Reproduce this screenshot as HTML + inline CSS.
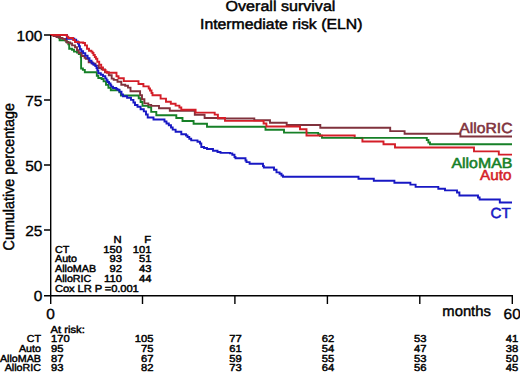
<!DOCTYPE html>
<html><head><meta charset="utf-8"><style>
html,body{margin:0;padding:0;background:#fff;}
body{width:520px;height:372px;overflow:hidden;position:relative;}
svg{position:absolute;left:0;top:0;}
text{font-family:"Liberation Sans",sans-serif;text-rendering:geometricPrecision;}
.t{font-size:14.5px;stroke:#000;stroke-width:0.45px;}
.a{font-size:14.5px;stroke:#000;stroke-width:0.4px;}
.k{font-size:14.6px;stroke:#000;stroke-width:0.35px;}
.s{font-size:10.2px;stroke:#000;stroke-width:0.45px;}
.l{font-size:14.6px;stroke-width:0.55px;}
</style></head><body>
<svg width="520" height="372" viewBox="0 0 520 372">
<g fill="none" stroke-width="1.9" stroke-linejoin="miter" stroke-linecap="butt">
<path d="M50,35H56.7V35.8H58.7V37.7H59.6V40.3H66.3V42.0H68.3V44.4H69.2V48.8H72.0V49.7H74.0V51.6H77.0V52.6H78.8V54.0H80.8V57.0H81.1V68.5H82.9V69.9H84.8V72.3H96.8V75.7H98.3V78.0H101.6V79.0H103.6V81.4H106.0V84.8H108.4V87.7H110.8V90.2H119.4V92.4H120.9V95.5H138.7V98.2H140.6V102.0H142.5V105.9H148.3V107.2H151.2V111.9H156.3V115.2H176.3V118.0H182.5V121.0H193.6V123.8H207.0V126.8H265.5V129.7H284.0V132.6H307.5V132.9H318.2V134.2H320.0V135.8H322.0V137.9H426.8V140.0H428.4V142.5H430.0V144.3H512" stroke="#168027"/>
<path d="M50,35H53.5V36.0H56.5V37.0H60.0V38.0H62.5V38.9H65.4V40.6H66.8V42.5H70.2V43.5H72.1V45.4H75.0V47.3H77.0V50.2H78.8V53.0H81.7V56.0H84.6V57.9H85.8V58.8H88.7V62.2H92.5V63.7H95.4V65.6H98.8V68.0H101.6V69.4H105.0V72.3H108.8V75.2H111.7V78.6H113.7V79.9H117.5V81.8H121.3V84.7H125.2V85.7H128.0V87.6H130.5V91.3H140.1V95.3H142.0V99.2H144.4V103.4H148.3V104.9H151.2V105.9H159.0V108.2H169.8V110.8H194.8V114.8H204.6V118.0H218.0V118.5H254.3V120.2H270.0V122.8H286.7V125.0H320.3V127.7H390.2V131.1H404.6V133.8H460.4V136.5H512" stroke="#80323d"/>
<path d="M50,35H66.9V38.8H74.3V39.8H76.2V41.4H77.9V43.5H79.0V46.3H79.9V49.2H81.3V51.2H83.1V53.2H85.3V55.7H87.6V58.3H89.5V60.8H91.5V63.2H93.5V64.8H95.4V66.0H96.5V68.0H97.3V70.4H98.3V73.3H100.8V74.8H103.0V76.3H105.3V78.4H106.5V80.2H107.6V82.0H109.0V83.5H110.5V85.3H111.3V86.6H113.0V88.0H116.3V89.0H117.5V89.8H119.4V91.6H121.5V94.5H123.0V96.3H127.1V97.8H131.0V99.9H133.4V102.5H135.0V105.0H137.5V106.8H140.6V109.2H143.8V111.4H146.0V114.5H147.7V117.5H153.5V119.5H164.5V121.5H166.5V123.5H168.8V125.2H171.0V127.5H172.7V129.6H175.6V131.8H181.3V134.3H186.0V135.5H187.5V137.0H189.3V138.8H191.2V140.4H197.5V141.8H200.0V143.5H201.3V147.0H204.0V148.0H207.0V149.0H213.0V150.8H217.5V152.0H220.5V152.9H230.0V153.4H232.3V154.8H234.5V157.0H235.5V158.3H245.5V160.5H246.5V162.1H249.6V163.7H263.0V166.0H263.8V167.5H274.0V169.8H276.5V172.4H279.6V173.8H281.5V175.5H283.0V176.8H358.5V178.8H373.8V180.8H394.4V182.7H410.4V184.6H415.6V186.9H438.3V188.8H445.0V190.4H457.0V192.5H459.4V195.5H478.0V197.5H479.6V199.5H499.8V202.5H512" stroke="#1818c4"/>
<path d="M50,35H66.8V36.6H68.3V38.0H73.2V40.0H75.0V42.0H78.8V42.5H83.2V43.0H85.0V45.4H87.0V48.8H89.0V50.7H91.3V51.6H92.5V53.0H93.5V55.0H94.8V57.0H95.9V58.8H97.3V61.7H99.2V64.6H101.2V67.5H103.0V69.9H105.5V71.8H107.0V72.8H116.5V76.2H118.5V78.3H123.8V81.1H138.5V84.0H143.4V86.4H148.7V88.5H150.0V90.5H151.5V93.0H152.5V95.2H160.6V98.6H166.0V101.7H170.8V103.7H175.6V105.6H179.4V107.5H181.3V109.8H195.6V112.6H214.7V114.6H217.9V118.0H225.0V120.9H263.6V123.5H266.4V126.5H300.0V129.3H306.5V135.5H354.7V138.0H362.4V141.5H383.5V144.2H395.0V147.5H474.0V151.4H498.8V154.6H512" stroke="#d41e28"/>
<path d="M354,137.9H363.2" stroke="#168027"/>
</g>
<g stroke="#000" stroke-width="1.4" fill="none">
<path d="M50.7,35V304"/>
<path d="M44,295.8H512.3V304"/>
<path d="M44,35H50M44,100H50M44,165H50M44,230H50"/>
<path d="M142.5,295.8V304M234.9,295.8V304M327.4,295.8V304M419.8,295.8V304"/>
</g>
<g fill="#000">
<text class="t" x="225.6" y="11.2" textLength="109.8" lengthAdjust="spacingAndGlyphs">Overall survival</text>
<text class="t" x="200" y="29" textLength="162.4" lengthAdjust="spacingAndGlyphs">Intermediate risk (ELN)</text>
<text class="k" transform="translate(42.4,41) scale(1.06,1)" text-anchor="end">100</text>
<text class="k" transform="translate(42.4,105.9) scale(1.06,1)" text-anchor="end">75</text>
<text class="k" transform="translate(42.4,170.9) scale(1.06,1)" text-anchor="end">50</text>
<text class="k" transform="translate(42.4,235.9) scale(1.06,1)" text-anchor="end">25</text>
<text class="k" transform="translate(42.4,301) scale(1.06,1)" text-anchor="end">0</text>
<text class="k" transform="translate(50.6,319.2) scale(1.06,1)" text-anchor="middle">0</text>
<text class="k" transform="translate(512.2,319.2) scale(1.06,1)" text-anchor="middle">60</text>
<text class="a" x="442.3" y="316.1" textLength="48.6" lengthAdjust="spacingAndGlyphs">months</text>
<text class="a" style="font-size:15.5px" transform="translate(13.9,250.4) rotate(-90)" textLength="147.4" lengthAdjust="spacingAndGlyphs">Cumulative percentage</text>
<g class="s">
<text transform="translate(121.6,243.0) scale(1.1,0.99)" text-anchor="end">N</text>
<text transform="translate(151.0,243.0) scale(1.1,0.99)" text-anchor="end">F</text>
<text transform="translate(55,252.7) scale(1.05,0.99)" text-anchor="start">CT</text>
<text transform="translate(121.9,252.7) scale(1.1,0.99)" text-anchor="end">150</text>
<text transform="translate(151.4,252.7) scale(1.1,0.99)" text-anchor="end">101</text>
<text transform="translate(55,262.4) scale(1.05,0.99)" text-anchor="start">Auto</text>
<text transform="translate(121.9,262.4) scale(1.1,0.99)" text-anchor="end">93</text>
<text transform="translate(151.4,262.4) scale(1.1,0.99)" text-anchor="end">51</text>
<text transform="translate(55,272.1) scale(1.05,0.99)" text-anchor="start">AlloMAB</text>
<text transform="translate(121.9,272.1) scale(1.1,0.99)" text-anchor="end">92</text>
<text transform="translate(151.4,272.1) scale(1.1,0.99)" text-anchor="end">43</text>
<text transform="translate(55,281.8) scale(1.05,0.99)" text-anchor="start">AlloRIC</text>
<text transform="translate(121.9,281.8) scale(1.1,0.99)" text-anchor="end">110</text>
<text transform="translate(151.4,281.8) scale(1.1,0.99)" text-anchor="end">44</text>
<text transform="translate(55,291.5) scale(1.1,0.99)" text-anchor="start" textLength="76.2" lengthAdjust="spacing">Cox LR P =0.001</text>
<text transform="translate(50.5,332.8) scale(1.1,0.99)" text-anchor="start">At risk:</text>
<text transform="translate(41,342.3) scale(1.05,0.99)" text-anchor="end">CT</text>
<text transform="translate(41,351.9) scale(1.05,0.99)" text-anchor="end">Auto</text>
<text transform="translate(41,361.6) scale(1.05,0.99)" text-anchor="end">AlloMAB</text>
<text transform="translate(41,371.0) scale(1.05,0.99)" text-anchor="end">AlloRIC</text>
<text transform="translate(51,342.3) scale(1.1,0.99)" text-anchor="start">170</text>
<text transform="translate(51,351.9) scale(1.1,0.99)" text-anchor="start">95</text>
<text transform="translate(51,361.6) scale(1.1,0.99)" text-anchor="start">87</text>
<text transform="translate(51,371.0) scale(1.1,0.99)" text-anchor="start">93</text>
<text transform="translate(153.4,342.3) scale(1.1,0.99)" text-anchor="end">105</text>
<text transform="translate(153.4,351.9) scale(1.1,0.99)" text-anchor="end">75</text>
<text transform="translate(153.4,361.6) scale(1.1,0.99)" text-anchor="end">67</text>
<text transform="translate(153.4,371.0) scale(1.1,0.99)" text-anchor="end">82</text>
<text transform="translate(241.8,342.3) scale(1.1,0.99)" text-anchor="end">77</text>
<text transform="translate(241.8,351.9) scale(1.1,0.99)" text-anchor="end">61</text>
<text transform="translate(241.8,361.6) scale(1.1,0.99)" text-anchor="end">59</text>
<text transform="translate(241.8,371.0) scale(1.1,0.99)" text-anchor="end">73</text>
<text transform="translate(334.3,342.3) scale(1.1,0.99)" text-anchor="end">62</text>
<text transform="translate(334.3,351.9) scale(1.1,0.99)" text-anchor="end">54</text>
<text transform="translate(334.3,361.6) scale(1.1,0.99)" text-anchor="end">55</text>
<text transform="translate(334.3,371.0) scale(1.1,0.99)" text-anchor="end">64</text>
<text transform="translate(426.4,342.3) scale(1.1,0.99)" text-anchor="end">53</text>
<text transform="translate(426.4,351.9) scale(1.1,0.99)" text-anchor="end">47</text>
<text transform="translate(426.4,361.6) scale(1.1,0.99)" text-anchor="end">53</text>
<text transform="translate(426.4,371.0) scale(1.1,0.99)" text-anchor="end">56</text>
<text transform="translate(518.3,342.3) scale(1.1,0.99)" text-anchor="end">41</text>
<text transform="translate(518.3,351.9) scale(1.1,0.99)" text-anchor="end">38</text>
<text transform="translate(518.3,361.6) scale(1.1,0.99)" text-anchor="end">50</text>
<text transform="translate(518.3,371.0) scale(1.1,0.99)" text-anchor="end">45</text>
</g>
<text class="l" x="459.3" y="132.5" textLength="53.2" lengthAdjust="spacingAndGlyphs" fill="#80323d" stroke="#80323d">AlloRIC</text>
<text class="l" x="451.4" y="167.8" textLength="61" lengthAdjust="spacingAndGlyphs" fill="#168027" stroke="#168027">AlloMAB</text>
<text class="l" x="480.1" y="179.9" textLength="31.4" lengthAdjust="spacingAndGlyphs" fill="#d41e28" stroke="#d41e28">Auto</text>
<text class="l" x="490.5" y="218" textLength="20.2" lengthAdjust="spacingAndGlyphs" fill="#1818c4" stroke="#1818c4">CT</text>
</g>
</svg>
</body></html>
